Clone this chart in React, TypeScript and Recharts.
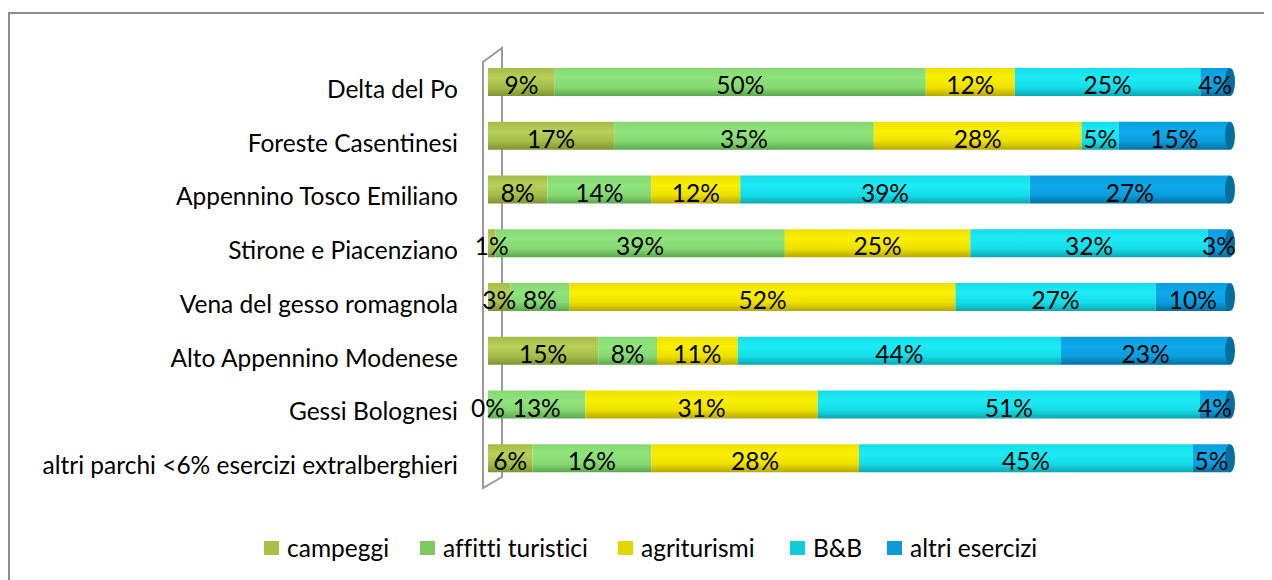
import React from 'react';
import { BarChart, Bar, XAxis, YAxis, LabelList } from 'recharts';

const categories = [
  'Delta del Po',
  'Foreste Casentinesi',
  'Appennino Tosco Emiliano',
  'Stirone e Piacenziano',
  'Vena del gesso romagnola',
  'Alto Appennino Modenese',
  'Gessi Bolognesi',
  'altri parchi <6% esercizi extralberghieri',
];
const campeggi = [9, 17, 8, 1, 3, 15, 0, 6];
const affitti = [50, 35, 14, 39, 8, 8, 13, 16];
const agriturismi = [12, 28, 12, 25, 52, 11, 31, 28];
const bb = [25, 5, 39, 32, 27, 44, 51, 45];
const altri = [4, 15, 27, 3, 10, 23, 4, 5];

const seriesKeys = ['campeggi', 'affitti', 'agriturismi', 'bb', 'altri'];
const seriesNames = ['campeggi', 'affitti turistici', 'agriturismi', 'B&B', 'altri esercizi'];
const legendColors = ['#A6C148', '#7CCB62', '#E2D800', '#10CCD8', '#0A9AD8'];
const gradTop = ['#A4BC48', '#86D872', '#EDE000', '#14DDE8', '#0A9EDF'];
const gradMid = ['#B8D058', '#90E47C', '#FAF000', '#1CEBF5', '#0DAAEC'];
const gradBot = ['#7E9430', '#5AA84C', '#B8A800', '#0AA8B2', '#05709E'];
const capColor = '#056E9C';
const legendLeft = [256, 412, 610, 782, 879];

const data = categories.map((name, i) => ({
  name,
  campeggi: campeggi[i],
  affitti: affitti[i],
  agriturismi: agriturismi[i],
  bb: bb[i],
  altri: altri[i],
}));

const FONT = 'Lato, "Open Sans", sans-serif';
const FS = 24.5;

const makeShape = (idx: number) => (props: any) => {
  const { x, y, width, height } = props;
  if (width == null || height == null) return null;
  const isLast = idx === seriesKeys.length - 1;
  return (
    <g>
      <rect x={x} y={y} width={Math.max(width, 0)} height={height} fill={`url(#grad-${idx})`} />
      {isLast && (
        <ellipse cx={x + width} cy={y + height / 2} rx={5} ry={height / 2} fill={capColor} />
      )}
    </g>
  );
};

const YTick = (props: any) => {
  const { x, y, payload } = props;
  return (
    <text x={x} y={y} dy={16} textAnchor="end" fontSize={FS} fontFamily={FONT} fill="#000">
      {payload.value}
    </text>
  );
};

const BarLabel = (props: any) => {
  const { x, y, width, height, value } = props;
  if (x == null || value == null) return null;
  return (
    <text
      x={x + width / 2}
      y={y + height / 2 + 12}
      textAnchor="middle"
      fontSize={FS}
      fontFamily={FONT}
      fill="#000"
    >
      {`${value}%`}
    </text>
  );
};

const LegendBox = () => (
  <div
    style={{
      position: 'absolute',
      left: 0,
      top: 525,
      width: 1264,
      height: 30,
      fontFamily: FONT,
      fontSize: FS,
      color: '#000',
      fontVariantLigatures: 'none',
    }}
  >
    {seriesNames.map((n, i) => (
      <div
        key={n}
        style={{
          position: 'absolute',
          left: legendLeft[i],
          top: 0,
          height: 30,
          display: 'flex',
          alignItems: 'center',
          whiteSpace: 'nowrap',
        }}
      >
        <div style={{ width: 15, height: 14, background: legendColors[i], marginRight: 8 }} />
        <span style={{ lineHeight: '30px' }}>{n}</span>
      </div>
    ))}
  </div>
);

export default function App() {
  return (
    <div style={{ position: 'relative', width: 1264, height: 572, fontFamily: FONT }}>
      <div
        style={{
          position: 'absolute',
          left: 0,
          top: 4,
          width: 1264,
          height: 568,
          borderLeft: '2px solid #8c8c8c',
          borderTop: '2px solid #8c8c8c',
          boxSizing: 'border-box',
        }}
      />
      <svg width={1264} height={572} style={{ position: 'absolute', left: 0, top: 0 }}>
        <polygon
          points="475,54 494,40 494,469 475,480"
          fill="none"
          stroke="#9a9a9a"
          strokeWidth={2}
        />
      </svg>
      <div style={{ position: 'absolute', left: 0, top: 0 }}>
        <BarChart
          width={1264}
          height={572}
          data={data}
          layout="vertical"
          stackOffset="expand"
          barSize={28}
          barCategoryGap={0}
          margin={{ top: 47, right: 42, bottom: 95, left: 0 }}
        >
          <defs>
            {seriesKeys.map((k, i) => (
              <linearGradient key={k} id={`grad-${i}`} x1="0" y1="0" x2="0" y2="1">
                <stop offset="0%" stopColor={gradTop[i]} />
                <stop offset="35%" stopColor={gradMid[i]} />
                <stop offset="70%" stopColor={gradTop[i]} />
                <stop offset="100%" stopColor={gradBot[i]} />
              </linearGradient>
            ))}
          </defs>
          <XAxis type="number" hide domain={[0, 1]} />
          <YAxis
            type="category"
            dataKey="name"
            width={480}
            axisLine={false}
            tickLine={false}
            tick={<YTick />}
            tickSize={0}
            tickMargin={30}
            interval={0}
          />
          {seriesKeys.map((k, i) => (
            <Bar
              key={k}
              dataKey={k}
              name={seriesNames[i]}
              stackId="a"
              fill={legendColors[i]}
              shape={makeShape(i)}
              isAnimationActive={false}
            >
              <LabelList dataKey={k} content={<BarLabel />} />
            </Bar>
          ))}
        </BarChart>
      </div>
      <LegendBox />
    </div>
  );
}
